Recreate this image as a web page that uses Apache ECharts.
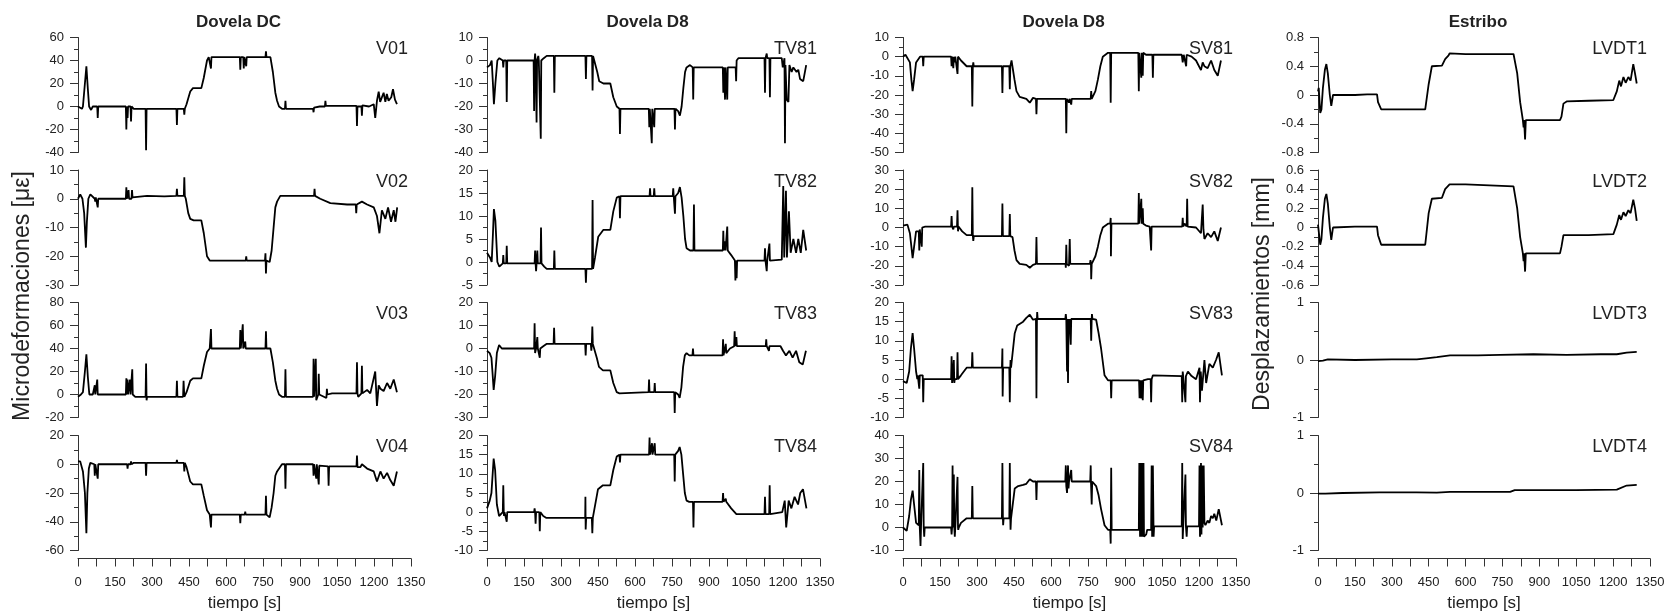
<!DOCTYPE html>
<html><head><meta charset="utf-8">
<script src="https://cdn.jsdelivr.net/npm/echarts/dist/echarts.min.js"></script>
<style>html,body{margin:0;padding:0;background:#fff}#c{width:1669px;height:613px}</style>
</head><body><div id="c"></div>
<script>
// ---------- DATA (time [s], value) ----------
const columnTitles = ['Dovela DC', 'Dovela D8', 'Dovela D8', 'Estribo'];
const panelNames = [
  ['V01', 'V02', 'V03', 'V04'],
  ['TV81', 'TV82', 'TV83', 'TV84'],
  ['SV81', 'SV82', 'SV83', 'SV84'],
  ['LVDT1', 'LVDT2', 'LVDT3', 'LVDT4']
];
const yAxisTitles = ['Microdeformaciones [\u03bc\u03b5]', 'Desplazamientos [mm]'];
const xAxisTitle = 'tiempo [s]';
const xTicks = { min: 0, max: 1350, step: 75, labelStep: 150 };
// [min, max, interval] per panel (column-major)
const yTicks = [
  [[-40, 60, 20], [-30, 10, 10], [-20, 80, 20], [-60, 20, 20]],
  [[-40, 10, 10], [-5, 20, 5], [-30, 20, 10], [-10, 20, 5]],
  [[-50, 10, 10], [-30, 30, 10], [-10, 20, 5], [-10, 40, 10]],
  [[-0.8, 0.8, 0.4], [-0.6, 0.6, 0.2], [-1, 1, 1], [-1, 1, 1]]
];

const V01 = [[0,0],[8,-1],[16,-2],[20,0],[28,20],[34,35],[40,15],[45,0],[53,-3],[60,0],[78,0],[80,-10],[82,0],[150,0],[194,0],[196,-20],[198,0],[200,0],[201,-10],[203,0],[213,0],[215,-13],[217,0],[226,-2],[274,-2],[276,-38],[278,-2],[399,-2],[401,-16],[403,-2],[429,-2],[431,-7],[433,-2],[440,2],[455,13],[466,16],[500,16],[510,25],[523,40],[530,43],[537,43],[539,33],[541,43],[656,43],[658,32],[660,43],[670,43],[672,33],[674,43],[680,43],[682,35],[684,43],[760,43],[762,48],[764,43],[780,43],[790,30],[800,12],[807,5],[815,0],[827,-2],[839,-2],[841,5],[843,-2],[953,-2],[955,-5],[957,-1],[980,0],[1001,0],[1003,5],[1005,0.5],[1129,0.5],[1131,-17],[1133,0],[1149,0],[1151,-8],[1153,1],[1180,0],[1199,2],[1205,-10],[1212,5],[1219,13],[1225,4],[1232,5],[1239,12],[1246,4],[1252,11],[1259,5],[1270,8],[1277,15],[1285,6],[1293,2]];
const V02 = [[0,0],[9,1.5],[18,0],[25,-5],[32,-17],[36,-8],[42,0],[50,1.5],[68,0],[70,-1],[72,0.5],[78,0],[80,-3],[82,0],[194,0],[196,4],[198,0],[203,0],[205,3],[207,0],[217,0],[219,3],[221,0.5],[280,1],[350,0.8],[399,1],[401,3.5],[403,1],[429,1],[431,7.5],[433,1],[437,0],[447,-5],[455,-7],[469,-7.5],[500,-7.5],[510,-12],[523,-20],[534,-21.5],[680,-21.5],[682,-20],[684,-21.5],[758,-21.5],[760,-19],[762,-26],[764,-21.5],[777,-22],[785,-18],[793,-10],[800,-3],[807,-1],[820,1],[940,1],[957,1],[959,3.5],[961,1],[982,0],[1023,-1.5],[1091,-2],[1126,-2],[1128,-5],[1130,-2],[1151,-1],[1172,-2],[1199,-3],[1212,-6],[1222,-12],[1232,-4],[1246,-7],[1257,-3],[1269,-8],[1280,-4],[1287,-8],[1294,-3]];
const V03 = [[0,-2],[12,0],[20,2],[28,20],[34,35],[40,15],[46,0],[60,0],[66,0],[68,8],[70,0],[76,0],[78,13],[80,0],[194,0],[196,14],[198,0],[199,0],[201,13],[203,0],[209,0],[211,13],[213,0],[218,0],[220,22],[222,0],[232,-2],[274,-2],[276,27],[278,-5],[280,-2],[399,-2],[401,12],[403,-2],[426,-2],[428,12],[431,-2],[440,2],[455,12],[466,14],[500,14],[510,25],[523,37],[534,40],[537,40],[539,57],[541,40],[656,40],[658,56],[660,40],[666,40],[668,61],[670,40],[676,40],[678,46],[680,40],[760,40],[762,55],[764,40],[780,40],[790,28],[800,12],[807,5],[815,0],[827,-2],[839,-2],[841,22],[843,-2],[953,-2],[955,31],[957,-2],[962,-2],[964,31],[966,-5],[974,0],[976,18],[978,0],[1007,-3],[1009,5],[1011,0],[1030,1],[1129,1],[1131,28],[1133,1],[1136,-2],[1149,1],[1151,25],[1153,1],[1172,4],[1185,1],[1205,20],[1212,-10],[1219,8],[1226,5],[1239,3],[1253,10],[1266,5],[1280,13],[1293,2]];
const V04 = [[0,2],[9,2],[20,-5],[28,-20],[34,-48],[38,-20],[44,-3],[50,1],[66,0],[68,-8],[70,0],[78,0],[80,-10],[82,0],[150,0],[199,0],[201,-3],[203,0],[213,0],[215,2],[217,0],[226,1],[274,1],[276,-8],[278,1],[399,1],[401,3],[403,1],[429,1],[431,-5],[433,1],[440,-2],[455,-12],[466,-14],[500,-14],[510,-22],[523,-32],[534,-35],[537,-35],[539,-44],[541,-35],[656,-35],[658,-41],[660,-35],[676,-35],[678,-33],[680,-35],[760,-35],[762,-22],[764,-35],[777,-37],[785,-30],[793,-20],[800,-8],[807,-5],[827,0],[839,0],[841,-17],[843,0],[953,0],[955,-8],[957,0],[964,0],[966,-10],[968,0],[974,0],[976,-14],[978,-1],[1014,-1.5],[1016,-15],[1018,-1.5],[1129,-1.5],[1131,6],[1133,-2],[1145,-2],[1151,0],[1172,-3],[1199,-5],[1212,-12],[1226,-5],[1239,-10],[1253,-6],[1266,-11],[1280,-15],[1293,-5]];

const TV81 = [[0,-3],[12,-2],[19,0],[24,-10],[28,-19],[34,-10],[42,0],[50,1],[64,0],[66,-3],[68,0],[78,0],[80,-18],[82,0],[189,0],[191,-22],[193,0],[195,3],[197,0],[199,0],[201,-27],[203,0],[208,2],[210,0],[216,0],[218,-34],[220,0],[230,1],[242,2],[271,2],[273,-14],[275,2],[399,2],[401,-8],[403,2],[426,2],[428,-13],[430,2],[438,2],[447,-5],[455,-9],[472,-10],[500,-10],[512,-16],[526,-20],[537,-21],[539,-32],[541,-21],[656,-21],[658,-29],[660,-21],[666,-21],[668,-36],[670,-21],[676,-21],[678,-29],[680,-21],[760,-21],[762,-30],[764,-21],[775,-22],[782,-24],[789,-20],[796,-12],[803,-5],[809,-3],[823,-2],[834,-3],[836,-17],[838,-3],[956,-3],[958,-14],[960,-3],[963,-3],[965,-17],[967,-3],[972,-3],[974,-17],[976,-3],[1008,-3],[1010,-9],[1012,0],[1019,1],[1125,1],[1127,-14],[1129,1],[1134,3],[1136,1],[1145,1],[1147,-16],[1149,1],[1195,1],[1199,-3],[1206,1],[1208,-36],[1210,-2],[1215,-17],[1222,-18],[1226,-2],[1235,-5],[1242,-3],[1255,-5],[1262,-4],[1269,-8],[1282,-9],[1294,-2]];
const TV82 = [[0,2],[12,1],[19,0],[24,6],[28,11.5],[34,9],[42,0],[50,-1],[64,-0.3],[66,1.5],[68,-0.3],[78,-0.3],[80,3.5],[82,-0.3],[193,-0.3],[195,2.5],[197,-0.3],[199,-2],[201,-0.3],[204,2.5],[206,-0.3],[217,-0.3],[219,7.5],[221,-0.3],[232,-1],[242,-1.5],[271,-1.5],[273,2.5],[275,-1.5],[399,-1.5],[401,-4.5],[403,-1.5],[426,-1.5],[428,13.5],[430,-1.5],[438,1],[451,5.5],[472,7],[500,7],[512,11],[526,14],[537,14.3],[539,9.5],[541,14.3],[659,14.3],[661,16],[663,14.3],[676,14.3],[678,16],[680,14.3],[753,14.3],[755,16],[757,14.3],[760,14.3],[762,10.5],[764,14.3],[775,15],[782,16.3],[789,14],[796,10],[803,5],[809,3],[823,2.5],[837,2.5],[839,12.5],[841,2.5],[956,2.5],[958,6.8],[960,2.5],[963,2.5],[965,4.5],[967,2.5],[972,2.5],[974,7.7],[976,2.5],[990,1.5],[1005,0.3],[1007,-4],[1009,0.3],[1010,0.3],[1012,-3.5],[1014,0.3],[1125,0.3],[1127,3],[1129,0.3],[1134,-2],[1136,0.3],[1143,0.3],[1145,4],[1147,0.3],[1195,0.5],[1201,16.5],[1205,1],[1208,1],[1212,15.5],[1216,1],[1219,1],[1224,11],[1231,2],[1242,5],[1253,2],[1262,5],[1272,2],[1282,7],[1294,2.5]];
const TV83 = [[0,-1],[11,-2],[18,-4],[22,-10],[27,-18],[33,-12],[40,-2],[49,1.5],[60,0],[191,0],[193,11],[195,-2],[197,-2],[199,0],[202,0],[204,5],[206,0],[212,0],[214,-4],[216,0],[228,1],[241,2],[270,2],[272,9],[274,2],[398,2],[400,-3],[402,2],[421,2],[423,-1],[425,2],[427,9.5],[429,2],[436,2],[445,-4],[454,-8],[470,-9.5],[500,-9.5],[512,-15],[526,-19],[537,-19.5],[540,-19],[655,-19],[657,-13.5],[659,-19],[678,-19],[680,-15],[682,-19],[759,-19],[761,-28],[763,-19],[775,-20],[781,-21.5],[788,-17],[795,-8],[802,-3],[809,-2],[820,-3],[833,-3],[835,0],[837,-3],[955,-3],[957,4],[959,-3],[966,-3],[968,2],[970,-2],[985,0],[1002,1],[1004,7.5],[1006,1],[1009,1],[1011,5],[1013,1],[1130,1],[1132,4],[1134,1],[1141,1],[1143,-1],[1145,1],[1190,1],[1200,-1],[1212,-3],[1226,-1],[1239,-4],[1253,-1],[1266,-6],[1280,-7],[1293,-1]];
const TV84 = [[0,1],[11,3],[18,5],[27,14],[33,11],[40,2],[49,-1],[64,0],[66,7],[68,0],[69,-1],[71,0],[78,0],[80,-2.5],[82,0],[191,0],[193,1],[195,0],[197,-3],[199,0],[212,0],[214,-5],[216,0],[228,-1],[241,-1.5],[398,-1.5],[399,4],[400,-4.5],[402,-1.5],[425,-1.5],[427,-5.5],[429,-1.5],[436,-1],[450,6],[470,7],[500,7],[512,11],[526,14.5],[537,15],[539,13],[541,15],[657,15],[659,19.5],[661,15],[667,15],[669,18],[671,15],[678,15],[680,18],[682,15],[759,15],[761,8],[763,15],[775,16],[781,17],[788,15],[795,10],[802,5],[809,3],[820,2.7],[835,2.7],[837,-4],[839,2.7],[955,2.7],[957,5],[959,2.7],[966,2.7],[968,3.5],[970,2.7],[990,1],[1011,-0.5],[1125,-0.5],[1127,4],[1129,-0.5],[1134,-1],[1136,-0.5],[1144,-0.5],[1146,7],[1148,-0.5],[1197,0],[1207,3],[1213,-4],[1223,3],[1234,1],[1247,4],[1261,2],[1270,5],[1281,6],[1295,1]];

const SV81 = [[0,0],[10,1],[18,2],[28,-3],[34,-12],[39,-18],[45,-12],[53,-3],[56,-3],[58,-4],[60,-2],[69,0],[80,0],[82,-5],[84,0],[195,0],[197,-5],[199,0],[202,0],[204,-6],[206,0],[208,0],[210,-3],[212,0],[219,0],[221,-9],[223,0],[235,-2],[258,-5],[279,-5],[281,-26],[283,-5],[285,-3],[287,-5],[401,-5],[403,-19],[405,-5],[431,-5],[433,-17],[435,-5],[440,-2],[444,-3],[452,-12],[460,-18],[473,-21],[500,-22],[514,-24],[527,-21.5],[539,-22],[541,-30],[543,-22],[660,-22],[662,-40],[664,-22],[671,-22],[673,-24],[675,-22],[680,-22],[682,-25],[684,-22],[761,-22],[763,-18],[765,-22],[770,-22],[780,-18],[790,-12],[800,-5],[810,0],[831,2],[840,2],[842,-24],[844,2],[954,2],[956,-18],[958,2],[964,2],[966,-11],[968,2],[970,2],[972,-10],[974,2],[979,3],[985,1],[1011,1],[1013,-11],[1015,1],[1130,1],[1134,-3],[1138,1],[1146,1],[1148,-5],[1150,1],[1155,2],[1170,0],[1188,-2],[1208,-7],[1215,-3],[1222,-5],[1235,-6],[1249,-2],[1262,-7],[1276,-10],[1289,-2]];
const SV82 = [[0,1],[18,1.5],[28,-3],[34,-10],[39,-16],[45,-10],[53,-2],[56,-3],[58,-2],[64,-2],[66,-12],[68,-1],[74,-1],[76,-10],[78,0],[90,0.5],[195,0.5],[197,6],[199,0.5],[202,0.5],[204,-1],[206,0.5],[219,0.5],[221,9],[223,-2],[225,0.5],[240,-2],[258,-4],[279,-4],[281,21],[283,-4],[285,-7],[287,-4.5],[401,-4.5],[403,12.5],[405,-4.5],[407,-5],[409,-4.5],[431,-4.5],[433,7],[435,-4.5],[440,-4],[444,-5],[452,-12],[460,-17],[473,-19],[500,-19.5],[514,-21],[527,-19.5],[539,-19],[541,-5],[543,-19],[548,-20],[550,-19],[659,-19],[660,-21],[662,-9],[664,-19],[671,-19],[673,-20],[676,-6],[678,-19],[758,-19],[760,-17],[762,-19],[763,-27],[765,-19],[770,-19],[780,-15],[790,-10],[800,-4],[810,0],[831,2],[840,2],[842,5],[843,-15],[845,2],[954,2],[956,18],[958,2],[964,2],[966,15],[968,2],[970,2],[972,10],[974,2],[985,1],[1000,0.5],[1004,0.5],[1006,-12],[1008,0.5],[1132,0.5],[1134,5],[1136,0.5],[1141,2],[1150,0.5],[1152,15],[1154,0.5],[1188,0],[1208,-3],[1215,12],[1218,-1],[1222,-6],[1235,-3],[1249,-5],[1262,-2],[1276,-7],[1289,0]];
const SV83 = [[0,-0.5],[4,-0.5],[15,-1],[25,2],[32,8],[39,12],[45,8],[53,2],[56,2],[58,0],[60,1],[64,1],[66,-2.5],[68,1],[80,1],[82,-6],[84,0],[195,0],[197,6],[199,-1],[201,0],[204,0],[206,5],[208,-1],[210,0],[219,0],[221,7],[223,0],[235,1],[258,3],[279,3],[281,7],[283,3],[401,3],[403,8],[404,-4.5],[406,3],[431,3],[433,-6],[435,3],[436,5],[438,3],[444,3],[453,12],[463,14],[487,15],[500,16],[514,16.8],[527,15.5],[539,15.7],[541,-5],[543,15.7],[544,17.5],[546,15.7],[658,15.7],[660,17],[662,15.7],[665,2],[667,15.7],[669,-1],[671,15.7],[673,13],[675,15.7],[680,9],[682,15.7],[761,15.7],[763,10],[765,15.7],[766,17],[768,15.7],[783,15.5],[793,12],[803,8],[817,1],[831,-0.3],[842,-0.3],[844,-5],[846,-0.3],[957,-0.3],[959,-5],[961,-0.3],[964,-0.3],[966,-5],[968,-0.3],[970,-0.3],[972,-5.5],[974,-0.3],[979,0],[993,0],[1004,0],[1006,-6],[1008,0],[1013,1],[1020,0.8],[1130,0.8],[1132,-6],[1134,2],[1136,0.8],[1143,0.8],[1145,-6],[1147,0.8],[1155,2],[1170,0.8],[1188,0],[1202,3],[1204,-6],[1207,2],[1212,-3],[1222,5],[1229,-1],[1242,4],[1256,3],[1269,5],[1280,7],[1293,1]];
const SV84 = [[0,0],[4,0],[15,-1.5],[25,5],[32,12],[39,16],[45,10],[53,2],[64,1],[66,25],[68,0],[71,-8],[73,0],[80,0],[82,28],[84,0],[86,-4],[88,0],[195,0],[197,-3],[199,0],[201,27],[203,0],[206,23],[208,0],[210,-4],[212,0],[219,0],[221,22],[223,0],[224,-1],[226,0],[235,2],[258,4],[279,4],[281,18],[283,4],[401,4],[403,28],[405,4],[406,1],[408,4],[431,4],[433,28],[435,4],[436,-1],[438,4],[444,4],[453,17],[467,18],[487,18.5],[500,19],[514,21],[527,20],[539,20],[541,12],[543,20],[658,20],[660,27],[662,18],[665,15],[667,20],[669,27],[671,17],[673,20],[680,20],[682,25],[684,20],[759,20],[761,27],[762,20],[765,10],[767,20],[783,18],[793,14],[803,8],[817,1],[831,-1],[840,-1],[842,-7],[844,26],[846,-1],[956,-1],[958,28],[961,-4],[963,28],[966,-4],[970,28],[972,-4],[975,28],[977,-4],[986,-3],[990,-1],[1006,-1],[1008,27],[1010,-4],[1013,27],[1016,-4],[1018,0.5],[1130,0.5],[1132,28],[1134,-5],[1136,0.5],[1143,0.5],[1145,23],[1147,0.5],[1150,-4],[1152,0.5],[1200,0.5],[1202,27],[1204,-4],[1206,0.5],[1208,28],[1210,-3],[1213,27],[1215,0],[1219,27],[1222,2],[1226,1],[1235,3],[1242,2],[1249,5],[1256,4],[1262,6],[1270,3],[1280,8],[1293,1]];

const LVDT1 = [[0,0.05],[3,0.1],[9,-0.25],[14,-0.2],[20,0.1],[28,0.35],[34,0.43],[40,0.3],[48,0],[54,-0.15],[61,0],[150,0],[200,0.01],[240,0.01],[244,-0.1],[257,-0.2],[350,-0.2],[436,-0.2],[450,0.15],[463,0.4],[504,0.41],[517,0.5],[531,0.55],[535,0.58],[600,0.57],[795,0.57],[810,0.3],[822,-0.1],[833,-0.35],[836,-0.45],[838,-0.35],[842,-0.62],[845,-0.35],[900,-0.35],[984,-0.35],[990,-0.3],[998,-0.12],[1011,-0.09],[1100,-0.08],[1201,-0.07],[1208,-0.05],[1215,0.05],[1225,0.2],[1232,0.12],[1242,0.25],[1251,0.17],[1262,0.25],[1271,0.2],[1282,0.43],[1289,0.3],[1296,0.16]];
const LVDT2 = [[0,0.03],[3,0.05],[9,-0.18],[14,-0.12],[20,0.1],[28,0.3],[34,0.35],[40,0.25],[48,0],[54,-0.13],[61,0],[150,0.01],[240,0.01],[244,-0.08],[257,-0.18],[436,-0.18],[450,0.15],[463,0.3],[504,0.31],[517,0.4],[535,0.45],[600,0.45],[795,0.43],[810,0.2],[822,-0.1],[833,-0.27],[836,-0.35],[838,-0.27],[842,-0.46],[845,-0.27],[984,-0.27],[990,-0.2],[998,-0.08],[1100,-0.08],[1201,-0.07],[1208,-0.02],[1215,0.03],[1225,0.13],[1232,0.08],[1242,0.16],[1251,0.12],[1262,0.18],[1271,0.15],[1282,0.29],[1289,0.2],[1296,0.07]];
const LVDT3 = [[0,-0.02],[20,-0.01],[40,0.01],[150,0],[300,0.01],[402,0.01],[440,0.03],[483,0.05],[537,0.08],[650,0.08],[741,0.09],[876,0.1],[1011,0.09],[1150,0.1],[1215,0.1],[1255,0.13],[1296,0.14]];
const LVDT4 = [[0,-0.01],[30,-0.01],[100,0],[250,0.01],[400,0.01],[483,0.005],[537,0.02],[650,0.02],[781,0.02],[800,0.05],[900,0.05],[1050,0.05],[1215,0.06],[1255,0.13],[1296,0.14]];

const seriesData = [
  [V01, V02, V03, V04],
  [TV81, TV82, TV83, TV84],
  [SV81, SV82, SV83, SV84],
  [LVDT1, LVDT2, LVDT3, LVDT4]
];

// ---------- LAYOUT ----------
const FONT = "'Liberation Sans', Arial, sans-serif";
const colLeft = [78, 487, 903, 1318];
const colWidth = [333, 333, 333, 332];
const rowTop = [37.5, 170, 302.5, 435.5];
const rowHeight = 115;
const AX = '#333';
const TXT = '#222';

function fmtY(v) { return String(parseFloat(v.toFixed(3))); }

const grids = [], xAxes = [], yAxes = [], series = [], graphics = [];
for (let c = 0; c < 4; c++) {
  for (let r = 0; r < 4; r++) {
    const idx = grids.length;
    grids.push({ left: colLeft[c], top: rowTop[r], width: colWidth[c], height: rowHeight, containLabel: false });
    const bottom = r === 3;
    xAxes.push({
      gridIndex: idx, type: 'value', min: xTicks.min, max: xTicks.max, interval: xTicks.step,
      show: bottom, offset: 8,
      axisLine: { show: true, onZero: false, lineStyle: { color: AX, width: 1 } },
      axisTick: { show: true, length: 8, inside: false, lineStyle: { color: AX } },
      axisLabel: { margin: 17, fontSize: 13, fontFamily: FONT, color: TXT, hideOverlap: false,
        formatter: v => (v % xTicks.labelStep === 0 ? String(v) : '') },
      splitLine: { show: false },
      name: bottom ? xAxisTitle : '', nameLocation: 'middle', nameGap: 36,
      nameTextStyle: { fontSize: 17, fontFamily: FONT, color: TXT }
    });
    const t = yTicks[c][r];
    yAxes.push({
      gridIndex: idx, type: 'value', min: t[0], max: t[1], interval: t[2],
      axisLine: { show: true, onZero: false, lineStyle: { color: AX, width: 1 } },
      axisTick: { show: true, length: 8, lineStyle: { color: AX } },
      minorTick: { show: true, splitNumber: 2, length: 4, lineStyle: { color: AX } },
      axisLabel: { margin: 14, fontSize: 13, fontFamily: FONT, color: TXT, formatter: fmtY,
        showMinLabel: true, showMaxLabel: true },
      splitLine: { show: false }, minorSplitLine: { show: false }
    });
    series.push({
      type: 'line', xAxisIndex: idx, yAxisIndex: idx, data: seriesData[c][r],
      showSymbol: false, symbol: 'none', silent: true, animation: false,
      lineStyle: { color: '#000', width: 1.8 }
    });
    graphics.push({
      type: 'text', x: colLeft[c] + colWidth[c] - 3, y: rowTop[r] + 12,
      style: { text: panelNames[c][r], fontSize: 18, fontFamily: FONT, fill: TXT, align: 'right', verticalAlign: 'middle' }
    });
  }
  graphics.push({
    type: 'text', x: colLeft[c] + colWidth[c] / 2 - 6, y: 22,
    style: { text: columnTitles[c], fontSize: 17, fontWeight: 'bold', fontFamily: FONT, fill: TXT, align: 'center', verticalAlign: 'middle' }
  });
}
graphics.push({
  type: 'text', x: 22.5, y: 296, rotation: Math.PI / 2,
  style: { text: yAxisTitles[0], fontSize: 23, fontFamily: FONT, fill: TXT, align: 'center', verticalAlign: 'middle' }
});
graphics.push({
  type: 'text', x: 1263, y: 294, rotation: Math.PI / 2,
  style: { text: yAxisTitles[1], fontSize: 23, fontFamily: FONT, fill: TXT, align: 'center', verticalAlign: 'middle' }
});

const chart = echarts.init(document.getElementById('c'), null, { renderer: 'canvas', width: 1669, height: 613 });
chart.setOption({
  backgroundColor: '#fff',
  animation: false,
  grid: grids, xAxis: xAxes, yAxis: yAxes, series: series, graphic: graphics
});
</script></body></html>
